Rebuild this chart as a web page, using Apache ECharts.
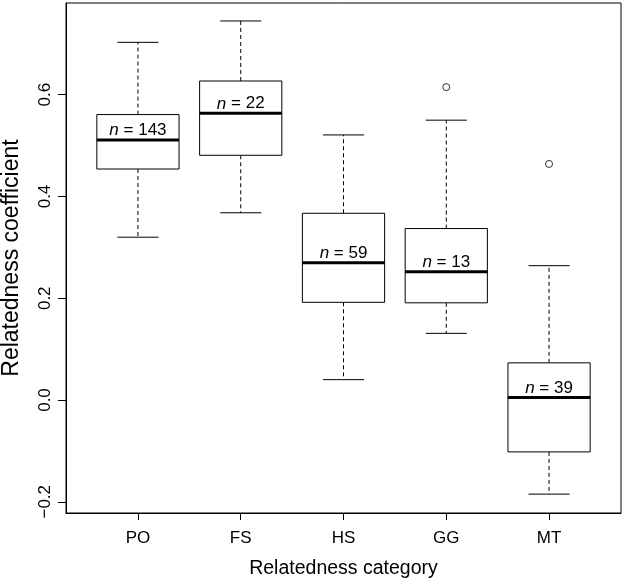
<!DOCTYPE html>
<html>
<head>
<meta charset="utf-8">
<script src="https://cdn.jsdelivr.net/npm/echarts@6/dist/echarts.min.js"></script>
<style>
html,body{margin:0;padding:0;background:#fff;}
#chart{width:625px;height:578px;}
</style>
</head>
<body>
<div id="chart"></div>
<script>
var categories = ['PO', 'FS', 'HS', 'GG', 'MT'];
var lowerWhisker = [0.320, 0.368, 0.040, 0.131, -0.185];
var q1 = [0.454, 0.481, 0.192, 0.191, -0.102];
var median = [0.511, 0.5635, 0.270, 0.252, 0.005];
var q3 = [0.561, 0.627, 0.367, 0.337, 0.073];
var upperWhisker = [0.703, 0.745, 0.521, 0.550, 0.264];
var sampleSizes = [143, 22, 59, 13, 39];
var outlierCategory = [4, 5];
var outlierValue = [0.615, 0.464];
var yTicks = [-0.2, 0.0, 0.2, 0.4, 0.6];
var yTickLabels = ['\u22120.2', '0.0', '0.2', '0.4', '0.6'];

var FONT = 'Liberation Sans, Arial, Helvetica, sans-serif';

var boxData = categories.map(function (c, i) {
  return [i + 1, lowerWhisker[i], q1[i], median[i], q3[i], upperWhisker[i], sampleSizes[i]];
});
var outlierData = outlierCategory.map(function (c, i) { return [c, outlierValue[i]]; });

function renderBox(params, api) {
  var x = api.value(0);
  var lw = api.coord([x, api.value(1)]);
  var b1 = api.coord([x, api.value(2)]);
  var md = api.coord([x, api.value(3)]);
  var b3 = api.coord([x, api.value(4)]);
  var uw = api.coord([x, api.value(5)]);
  var n = api.value(6);
  var w = api.size([0.8, 0])[0];
  var hw = w / 2;
  var cap = w / 4;
  var cx = md[0];
  var stroke = {stroke: '#000', lineWidth: 1, fill: null};
  var dashed = {stroke: '#000', lineWidth: 1, lineDash: [4, 3]};
  return {
    type: 'group',
    children: [
      {type: 'line', shape: {x1: cx, y1: b3[1], x2: cx, y2: uw[1]}, style: dashed},
      {type: 'line', shape: {x1: cx, y1: b1[1], x2: cx, y2: lw[1]}, style: dashed},
      {type: 'line', shape: {x1: cx - cap, y1: uw[1], x2: cx + cap, y2: uw[1]}, style: stroke},
      {type: 'line', shape: {x1: cx - cap, y1: lw[1], x2: cx + cap, y2: lw[1]}, style: stroke},
      {type: 'rect', shape: {x: cx - hw, y: b3[1], width: w, height: b1[1] - b3[1]}, style: {stroke: '#000', lineWidth: 1, fill: '#fff'}},
      {type: 'line', shape: {x1: cx - hw, y1: md[1], x2: cx + hw, y2: md[1]}, style: {stroke: '#000', lineWidth: 3}},
      {type: 'text', x: cx, y: md[1] - 1, style: {
        text: '{i|n} = ' + n,
        align: 'center', verticalAlign: 'bottom',
        fontSize: 17, fontFamily: FONT, fill: '#000',
        rich: {i: {fontStyle: 'italic', fontSize: 17, fontFamily: FONT, fill: '#000'}}
      }}
    ]
  };
}

var chart = echarts.init(document.getElementById('chart'), null, {renderer: 'canvas'});
chart.setOption({
  animation: false,
  backgroundColor: '#fff',
  grid: {left: 66, right: 4, top: 3, bottom: 65, containLabel: false, outerBoundsMode: 'none',
    show: true, borderColor: '#000', borderWidth: 1, backgroundColor: 'transparent'},
  xAxis: {
    type: 'value', min: 0.3, max: 5.7,
    name: 'Relatedness category', nameLocation: 'middle', nameGap: 46,
    nameTextStyle: {fontSize: 19.5, fontFamily: FONT, color: '#000'},
    axisLine: {show: true, onZero: false, lineStyle: {color: '#000', width: 1}},
    axisTick: {show: true, length: 7, customValues: [1, 2, 3, 4, 5], lineStyle: {color: '#000'}},
    axisLabel: {show: true, customValues: [1, 2, 3, 4, 5], margin: 17, fontSize: 17, fontFamily: FONT, color: '#000',
      formatter: function (v) { return categories[Math.round(v) - 1] || ''; }},
    splitLine: {show: false}
  },
  yAxis: {
    type: 'value', min: -0.2221, max: 0.7803,
    name: 'Relatedness coefficient', nameLocation: 'middle', nameGap: 43,
    nameTextStyle: {fontSize: 23, fontFamily: FONT, color: '#000'},
    axisLine: {show: true, onZero: false, lineStyle: {color: '#000', width: 1}},
    axisTick: {show: true, length: 8, customValues: yTicks, lineStyle: {color: '#000'}},
    axisLabel: {show: true, customValues: yTicks, rotate: 90, margin: 12, fontSize: 17, fontFamily: FONT, color: '#000',
      formatter: function (v) {
        for (var i = 0; i < yTicks.length; i++) { if (Math.abs(yTicks[i] - v) < 1e-6) return yTickLabels[i]; }
        return '';
      }},
    splitLine: {show: false}
  },
  series: [
    {
      type: 'custom',
      renderItem: renderBox,
      data: boxData,
      encode: {x: 0, y: [1, 2, 3, 4, 5]},
      clip: false
    },
    {
      type: 'scatter',
      data: outlierData,
      symbol: 'circle', symbolSize: 7,
      itemStyle: {color: '#fff', borderColor: '#000', borderWidth: 1}
    }
  ]
});
</script>
</body>
</html>
